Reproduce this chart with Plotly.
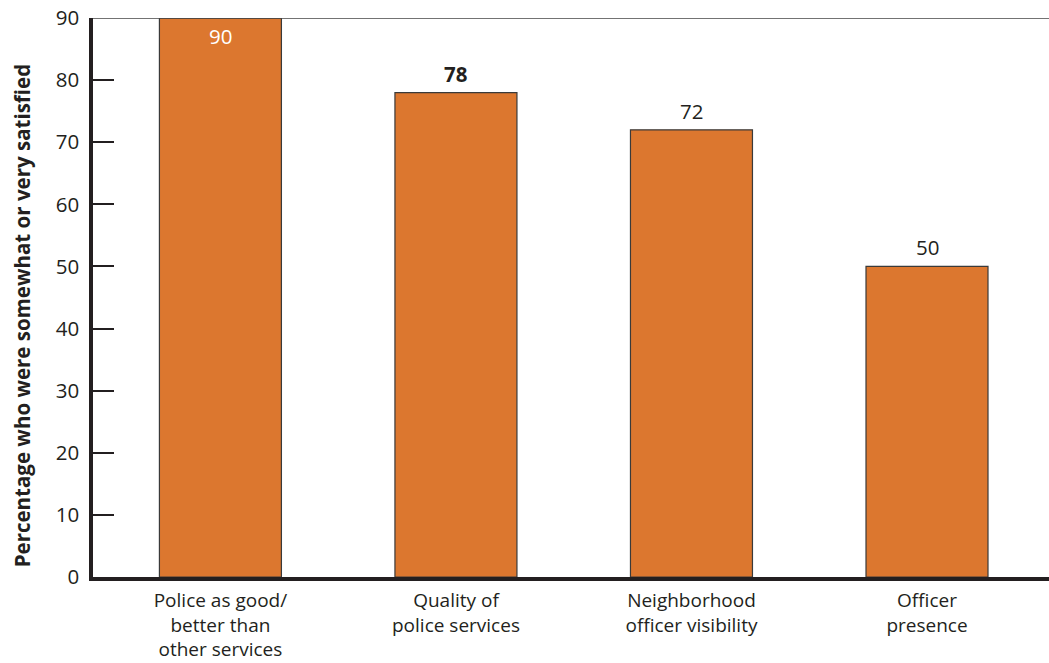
import plotly.graph_objects as go

categories = [
    "Police as good/<br>better than<br>other services",
    "Quality of<br>police services",
    "Neighborhood<br>officer visibility",
    "Officer<br>presence",
]
values = [90, 78, 72, 50]
y_ticks = [0, 10, 20, 30, 40, 50, 60, 70, 80, 90]
y_title = "Percentage who were somewhat or very satisfied"

BAR_COLOR = "#DC772F"
EDGE_COLOR = "#3a3a3a"
AXIS_COLOR = "#231f20"
FONT = "Open Sans"

x_pos = list(range(len(categories)))

fig = go.Figure()
fig.add_trace(go.Bar(
    x=x_pos,
    y=values,
    width=0.518,
    marker=dict(color=BAR_COLOR, line=dict(color=EDGE_COLOR, width=1.2)),
    hoverinfo="skip",
))

# value labels: first one sits inside the bar in white, the rest above
for i, v in enumerate(values):
    if i == 0:
        fig.add_annotation(x=i, y=v, text=str(v), showarrow=False,
                           yanchor="top", yshift=-2,
                           font=dict(family=FONT, size=20.5, color="white"))
    else:
        txt = f"<b>{v}</b>" if i == 1 else str(v)
        fig.add_annotation(x=i, y=v, text=txt, showarrow=False,
                           yanchor="bottom", yshift=3,
                           font=dict(family=FONT, size=20.5, color="#231f20"))

# rotated y-axis title
fig.add_annotation(xref="paper", yref="paper", x=-0.0743, y=0.468,
                   text=f"<b>{y_title}</b>", textangle=-90, showarrow=False,
                   xanchor="center", yanchor="middle",
                   font=dict(family=FONT, size=20.5, color="#231f20"))

# thin frame line along the top of the plot
fig.add_shape(type="line", xref="paper", yref="y", x0=0, x1=1, y0=90, y1=90,
              line=dict(color="#444444", width=1.5))

fig.update_layout(
    width=1049, height=663,
    margin=dict(l=93, r=0, t=18, b=86),
    paper_bgcolor="white", plot_bgcolor="white",
    showlegend=False,
    font=dict(family=FONT, color="#231f20"),
)
fig.update_xaxes(
    range=[-0.541, 3.518],
    tickmode="array", tickvals=x_pos, ticktext=categories,
    showline=True, linecolor=AXIS_COLOR, linewidth=4,
    showgrid=False, zeroline=False, ticks="",
    tickfont=dict(family=FONT, size=19, color="#231f20"),
    ticklabelstandoff=3,
    automargin=False,
    fixedrange=True,
)
fig.update_yaxes(
    range=[0, 90],
    tickmode="array", tickvals=y_ticks,
    showline=True, linecolor=AXIS_COLOR, linewidth=3.5,
    showgrid=False, zeroline=False,
    ticks="inside", ticklen=21, tickwidth=2, tickcolor=AXIS_COLOR,
    tickfont=dict(family=FONT, size=20.5, color="#231f20"),
    ticklabelstandoff=6,
    automargin=False,
    fixedrange=True,
)

fig.write_html("out.html")
